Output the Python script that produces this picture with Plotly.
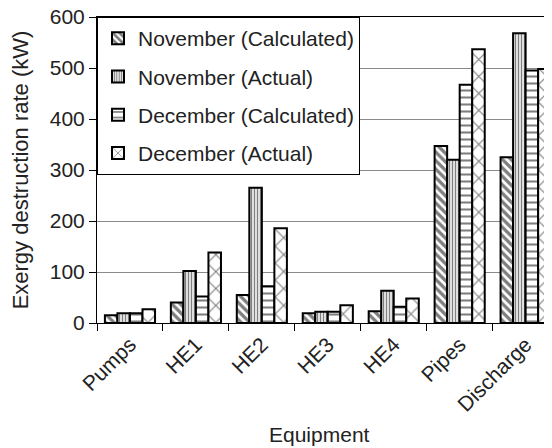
import plotly.graph_objects as go

categories = ["Pumps", "HE1", "HE2", "HE3", "HE4", "Pipes", "Discharge"]
nov_calc = [15, 40, 55, 19, 23, 347, 325]
nov_act = [19, 102, 265, 22, 63, 320, 568]
dec_calc = [19, 52, 72, 22, 32, 467, 495]
dec_act = [27, 138, 186, 35, 48, 537, 498]
series_names = ["November (Calculated)", "November (Actual)",
                "December (Calculated)", "December (Actual)"]
y_ticks = [0, 100, 200, 300, 400, 500, 600]

FONT = "Liberation Sans, Arial, sans-serif"
patterns = [
    dict(shape="\\", size=6, solidity=0.55),
    dict(shape="|", size=3, solidity=0.5),
    dict(shape="-", size=7, solidity=0.3),
    dict(shape="x", size=12, solidity=0.18),
]

fig = go.Figure()
for i, (name, vals) in enumerate(zip(series_names, [nov_calc, nov_act, dec_calc, dec_act])):
    p = patterns[i]
    fig.add_trace(go.Bar(
        x=categories, y=vals, name=name, legendgroup=f"g{i}",
        marker=dict(color="white", line=dict(color="black", width=2),
                    pattern=dict(shape=p["shape"], size=p["size"], solidity=p["solidity"],
                                 fgcolor="black", bgcolor="white", fillmode="overlay")),
    ))

fig.update_layout(
    width=544, height=440,
    margin=dict(l=89, r=0, t=9, b=125),
    barmode="group", bargap=0.24, bargroupgap=0,
    plot_bgcolor="white", paper_bgcolor="white",
    font=dict(family=FONT, size=21, color="#222"),
    legend=dict(x=0, y=1, xanchor="left", yanchor="top",
                bgcolor="white", bordercolor="black", borderwidth=1,
                font=dict(size=21), tracegroupgap=8, traceorder="grouped"),
    showlegend=True,
    annotations=[dict(text="Equipment", xref="paper", yref="paper",
                      x=0.49, y=-0.366, xanchor="center", yanchor="middle",
                      showarrow=False, font=dict(size=21))],
)
fig.update_xaxes(
    range=[-0.5, 6.4], showline=True, linecolor="black", linewidth=1, mirror=True,
    ticks="outside", tickson="boundaries", ticklen=7, tickcolor="black",
    tickangle=-45, tickfont=dict(size=21),
    showgrid=False, automargin=False,
)
fig.update_yaxes(
    range=[0, 600], tickvals=y_ticks, showline=True, linecolor="black", linewidth=1,
    ticks="outside", ticklen=7, tickcolor="black", tickfont=dict(size=21),
    ticklabeloverflow="allow",
    showgrid=True, gridcolor="#8a8a8a", gridwidth=1, zeroline=False,
    title=dict(text="Exergy destruction rate (kW)", font=dict(size=22), standoff=21),
    automargin=False,
)

fig.write_html("out.html")
